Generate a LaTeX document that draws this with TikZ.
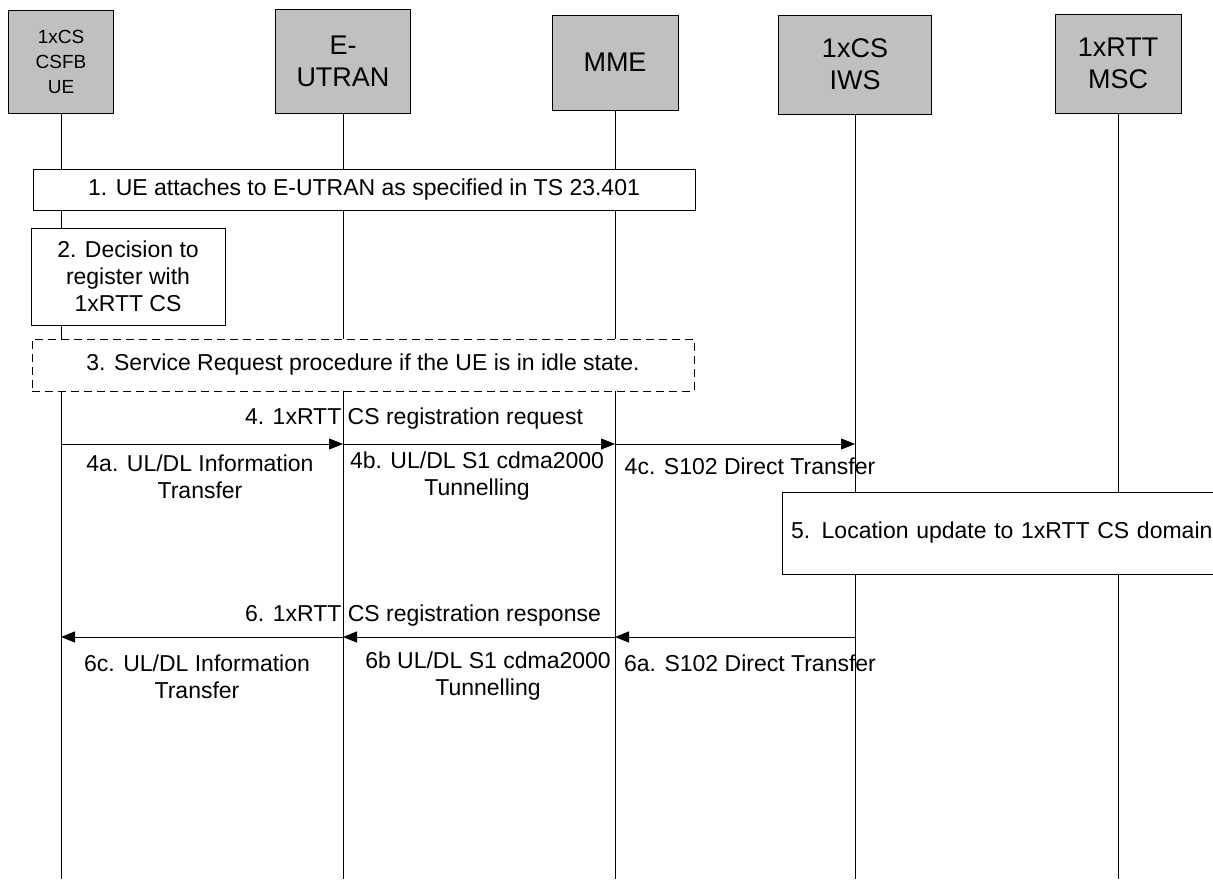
\documentclass[tikz,border=0pt]{standalone}
\usepackage{fontspec}
\setmainfont{Liberation Sans}
\usetikzlibrary{arrows.meta}
\definecolor{hdrgray}{HTML}{C0C0C0}
\newcommand\msgfont{\fontsize{23}{27}\selectfont}
\newcommand\hdrfont{\fontsize{27}{32}\selectfont}
\newcommand\uefont{\fontsize{19}{25}\selectfont}
\begin{document}
\begin{tikzpicture}[x=1pt,y=-1pt,
  hdr/.style={draw=black, line width=1pt, fill=hdrgray, align=center, inner sep=0pt, font=\hdrfont},
  life/.style={draw=black, line width=1pt},
  box/.style={draw=black, line width=1pt, fill=white, align=center, inner sep=0pt, font=\msgfont},
  msg/.style={draw=black, line width=1pt, -{Triangle[length=14pt,width=11pt]}},
  lbl/.style={align=center, inner sep=0pt, font=\msgfont}
]
\useasboundingbox (0,0) rectangle (1213,879);
\coordinate (bot) at (0,879);
% headers
\node[hdr, minimum width=105pt, minimum height=103pt, font=\uefont] (ue) at (61,61.5) {1xCS\\CSFB\\UE};
\node[hdr, minimum width=135pt, minimum height=104pt] (enb) at (343,61) {E-\\UTRAN};
\node[hdr, minimum width=126pt, minimum height=95pt] (mme) at (615,62.5) {MME};
\node[hdr, minimum width=153pt, minimum height=99pt] (iws) at (855,64.5) {1xCS\\IWS};
\node[hdr, minimum width=126pt, minimum height=99pt] (msc) at (1118,63.5) {1xRTT\\MSC};
% lifelines
\foreach \n in {ue,enb,mme,iws,msc}{\draw[life] (\n.south) -- (\n.south |- bot);}
% boxes
\node[box, minimum width=662pt, minimum height=41pt] (b1) at (364,189.5) {1. UE attaches to E-UTRAN as specified in TS 23.401};
\node[box, minimum width=194pt, minimum height=97pt] (b2) at (128,276.5) {2. Decision to\\register with\\1xRTT CS};
\node[box, dash pattern=on 8pt off 5pt, minimum width=662pt, minimum height=52pt] (b3) at (363,365) {3. Service Request procedure if the UE is in idle state.};
\node[box, minimum width=443pt, minimum height=82pt, text width=425pt, align=left, inner xsep=9pt] (b5) at (1003.5,533) {5. Location update to 1xRTT CS domain};
% message 4
\coordinate (ue4) at (ue.south |- 0,444);
\coordinate (enb4) at (enb.south |- 0,444);
\coordinate (mme4) at (mme.south |- 0,444);
\coordinate (iws4) at (iws.south |- 0,444);
\draw[msg] (ue4) -- (enb4);
\draw[msg] (enb4) -- (mme4);
\draw[msg] (mme4) -- (iws4);
\node[lbl] (l4) at (414,419) {4. 1xRTT CS registration request};
\node[lbl] (l4a) at (200,476.5) {4a. UL/DL Information\\Transfer};
\node[lbl] (l4b) at (477,476.5) {4b. UL/DL S1 cdma2000\\Tunnelling};
\node[lbl] (l4c) at (750,466) {4c. S102 Direct Transfer};
% message 6
\coordinate (ue6) at (ue.south |- 0,637);
\coordinate (enb6) at (enb.south |- 0,637);
\coordinate (mme6) at (mme.south |- 0,637);
\coordinate (iws6) at (iws.south |- 0,637);
\draw[msg] (iws6) -- (mme6);
\draw[msg] (mme6) -- (enb6);
\draw[msg] (enb6) -- (ue6);
\node[lbl] (l6) at (423,616) {6. 1xRTT CS registration response};
\node[lbl] (l6c) at (197,676.5) {6c. UL/DL Information\\Transfer};
\node[lbl] (l6b) at (488,676.5) {6b UL/DL S1 cdma2000\\Tunnelling};
\node[lbl] (l6a) at (750,663) {6a. S102 Direct Transfer};
\end{tikzpicture}
\end{document}
